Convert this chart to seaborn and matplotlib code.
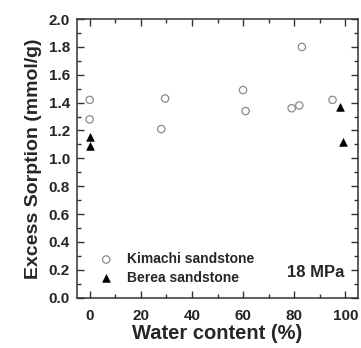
import numpy as np
import pandas as pd
import seaborn as sns
import matplotlib.pyplot as plt
from matplotlib.ticker import MultipleLocator

# Kimachi sandstone
kim_water = [0, 0, 28, 29.5, 60, 61, 79, 82, 83, 95]
kim_sorp = [1.42, 1.28, 1.21, 1.43, 1.49, 1.34, 1.36, 1.38, 1.80, 1.42]
# Berea sandstone
ber_water = [0, 0, 98, 99]
ber_sorp = [1.15, 1.09, 1.37, 1.115]

df = pd.DataFrame({
    'water': kim_water + ber_water,
    'sorption': kim_sorp + ber_sorp,
    'rock': ['Kimachi sandstone'] * len(kim_water) + ['Berea sandstone'] * len(ber_water),
})

sns.set_style('ticks')
plt.rcParams['font.family'] = ['Liberation Sans', 'DejaVu Sans']
plt.rcParams['font.weight'] = 'bold'

fig, ax = plt.subplots(figsize=(3.61, 3.48), dpi=100)
fig.subplots_adjust(left=0.213, right=0.992, top=0.945, bottom=0.145)

kim = df[df['rock'] == 'Kimachi sandstone']
ber = df[df['rock'] == 'Berea sandstone']
sns.scatterplot(data=kim, x='water', y='sorption', marker='o', s=28,
                facecolor='none', edgecolor='#8a8a8a', linewidth=0.9,
                label='Kimachi sandstone', ax=ax)
sns.scatterplot(data=ber, x='water', y='sorption', marker='^', s=30,
                color='black', edgecolor='black', linewidth=0.5,
                label='Berea sandstone', ax=ax)

ax.set_xlim(-5, 105)
ax.set_ylim(0, 2.0)
ax.xaxis.set_major_locator(MultipleLocator(20))
ax.xaxis.set_minor_locator(MultipleLocator(10))
ax.yaxis.set_major_locator(MultipleLocator(0.2))
ax.yaxis.set_minor_locator(MultipleLocator(0.1))
ax.yaxis.set_major_formatter(plt.FormatStrFormatter('%.1f'))
ax.tick_params(which='both', direction='in', top=True, right=True, color='#333333')
ax.tick_params(which='major', length=5, width=1, labelsize=11)
ax.tick_params(which='minor', length=3, width=1)
ax.tick_params(axis='x', which='major', pad=8)
ax.tick_params(axis='y', which='major', pad=5)
for lbl in ax.get_xticklabels() + ax.get_yticklabels():
    lbl.set_fontweight('bold')
for sp in ax.spines.values():
    sp.set_linewidth(1.1)
    sp.set_color('#333333')

ax.set_xlabel('Water content (%)', fontsize=14.5, fontweight='bold', labelpad=1)
ax.set_ylabel('Excess Sorption (mmol/g)', fontsize=14, fontweight='bold', labelpad=5)

leg = ax.legend(loc='lower left', frameon=False, handletextpad=0.5,
                borderaxespad=0, labelspacing=0.35, borderpad=0.3,
                prop={'weight': 'bold', 'size': 10}, bbox_to_anchor=(0.04, 0.03))
ax.text(0.95, 0.09, '18 MPa', transform=ax.transAxes, ha='right', va='center',
        fontsize=12, fontweight='bold')

plt.savefig('out.png', dpi=100)
